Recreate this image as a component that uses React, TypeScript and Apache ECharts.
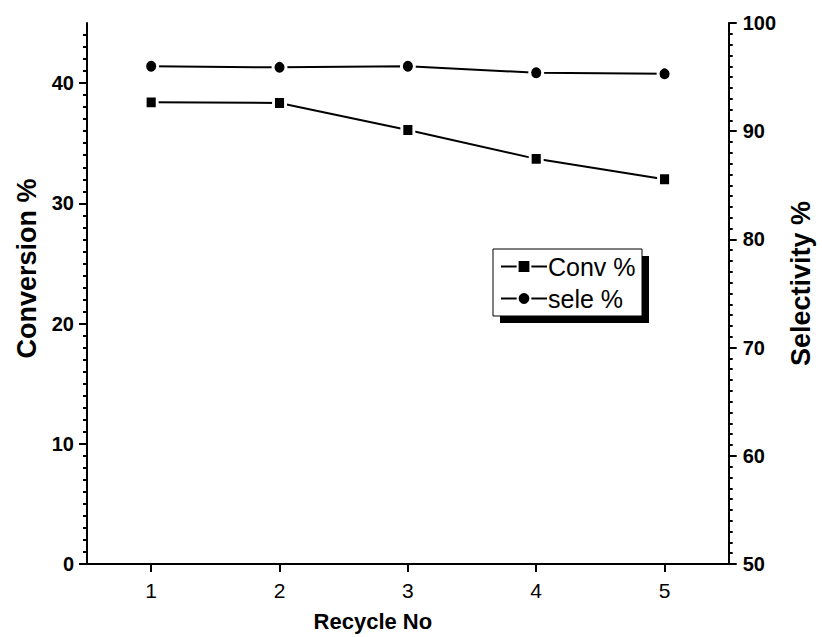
import React, { useEffect, useRef } from "react";
import * as echarts from "echarts";

const recycleNo = ["1", "2", "3", "4", "5"];
const convPct = [38.4, 38.35, 36.1, 33.7, 32.0];
const selePct = [96.0, 95.9, 96.0, 95.4, 95.3];
const convTicks = [0, 10, 20, 30, 40];
const convMinorTicks = [1,2,3,4,5,6,7,8,9,11,12,13,14,15,16,17,18,19,21,22,23,24,25,26,27,28,29,31,32,33,34,35,36,37,38,39,41,42,43,44];

const FONT = "'Liberation Sans', Arial, sans-serif";

export default function App() {
  const ref = useRef<HTMLDivElement>(null);
  useEffect(() => {
    if (!ref.current) return;
    const chart = echarts.init(ref.current, null, { renderer: "svg" });
    const axisLine = { show: true, lineStyle: { color: "#000", width: 2 } };
    chart.setOption({
      animation: false,
      backgroundColor: "#fff",
      grid: { left: 87, right: 82, top: 23, bottom: 73, containLabel: false },
      xAxis: [
        {
          type: "category",
          data: recycleNo,
          boundaryGap: true,
          position: "bottom",
          name: "Recycle No",
          nameLocation: "middle",
          nameGap: 46,
          nameTextStyle: { fontFamily: FONT, fontWeight: "bold", fontSize: 22, color: "#000", padding: [0, 70, 0, 0] },
          axisLine,
          axisTick: { show: true, alignWithLabel: true, length: 8, inside: false, lineStyle: { color: "#000", width: 2 } },
          axisLabel: { fontFamily: FONT, fontSize: 21, color: "#000", margin: 16 },
          splitLine: { show: false },
        },
        {
          type: "category",
          data: recycleNo,
          boundaryGap: true,
          position: "top",
          axisLine,
          axisTick: { show: true, alignWithLabel: true, length: 6, inside: true, lineStyle: { color: "#000", width: 2 } },
          axisLabel: { show: false },
          splitLine: { show: false },
        },
      ],
      yAxis: [
        {
          type: "value",
          min: 0,
          max: 45,
          position: "left",
          name: "Conversion %",
          nameLocation: "middle",
          nameRotate: 90,
          nameGap: 42,
          nameTextStyle: { fontFamily: FONT, fontWeight: "bold", fontSize: 27, color: "#000", padding: [0, 0, 0, 50] },
          axisLine,
          axisTick: { show: true, length: 8, lineStyle: { color: "#000", width: 2 }, customValues: convTicks },
          axisLabel: { fontFamily: FONT, fontWeight: "bold", fontSize: 20, color: "#000", margin: 13, customValues: convTicks },
          splitLine: { show: false },
        },
        {
          type: "value",
          min: 50,
          max: 100,
          interval: 10,
          position: "right",
          name: "Selectivity %",
          nameLocation: "middle",
          nameRotate: 90,
          nameGap: 30,
          nameTextStyle: { fontFamily: FONT, fontWeight: "bold", fontSize: 27, color: "#000", padding: [0, 0, 0, 20] },
          axisLine,
          axisTick: { show: true, length: 8, lineStyle: { color: "#000", width: 2 } },
          minorTick: { show: true, splitNumber: 10, length: 4, lineStyle: { color: "#000", width: 2 } },
          axisLabel: { fontFamily: FONT, fontWeight: "bold", fontSize: 20, color: "#000", margin: 14 },
          splitLine: { show: false },
        },
        {
          type: "value",
          min: 0,
          max: 45,
          position: "left",
          axisLine: { show: false },
          axisTick: { show: true, length: 4, lineStyle: { color: "#000", width: 2 }, customValues: convMinorTicks },
          axisLabel: { show: false },
          splitLine: { show: false },
        },
      ],
      legend: {
        orient: "vertical",
        left: 495,
        top: 249,
        itemWidth: 46,
        itemHeight: 16,
        itemGap: 7,
        z: 10,
        textStyle: { fontFamily: FONT, fontSize: 25, color: "#000", padding: [0, 0, 0, -4] },
        data: ["Conv %", "sele %"],
      },
      graphic: [
        { type: "rect", z: 1, shape: { x: 500, y: 256, width: 149, height: 67 }, style: { fill: "#000" } },
        { type: "rect", z: 2, shape: { x: 493, y: 249, width: 149, height: 67 }, style: { fill: "#fff", stroke: "#000", lineWidth: 1 } },
      ],
      series: [
        {
          name: "Conv %",
          type: "line",
          xAxisIndex: 0,
          yAxisIndex: 0,
          data: convPct,
          symbol: "rect",
          symbolSize: [12, 13],
          lineStyle: { color: "#000", width: 2 },
          itemStyle: { color: "#000", borderColor: "#fff", borderWidth: 3 },
          z: 5,
        },
        {
          name: "sele %",
          type: "line",
          xAxisIndex: 0,
          yAxisIndex: 1,
          data: selePct,
          symbol: "circle",
          symbolSize: [13, 14],
          lineStyle: { color: "#000", width: 2 },
          itemStyle: { color: "#000", borderColor: "#fff", borderWidth: 3 },
          z: 5,
        },
      ],
    });
    return () => chart.dispose();
  }, []);
  return <div ref={ref} style={{ position: "fixed", left: 0, top: 0, width: 822, height: 637 }} />;
}
